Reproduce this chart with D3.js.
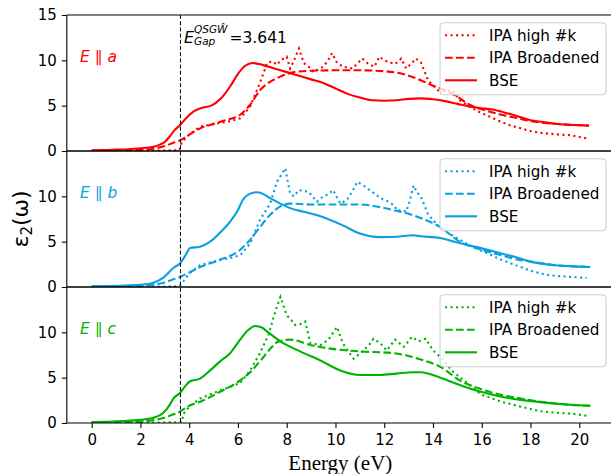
<!DOCTYPE html>
<html>
<head>
<meta charset="utf-8">
<script src="https://cdn.jsdelivr.net/npm/d3@7"></script>
<style>
  body { margin: 0; background: #fff; }
  svg { display: block; }
  .tick text { font-family: "DejaVu Sans", sans-serif; font-size: 15px; fill: #000; }
</style>
</head>
<body>
<div id="chart"></div>
<script>
// x ticks and gap
var xTicks = [0, 2, 4, 6, 8, 10, 12, 14, 16, 18, 20];
var gapEnergy = 3.641;
var panelNames = ["a", "b", "c"];
var panelColors = ["#ff0000", "#0a9fe0", "#00b300"];
var seriesNames = ["IPA high #k", "IPA Broadened", "BSE"];

// E || a
var aDotted = [[0,0.03],[1,0.03],[2,0.04],[3,0.05],[3.6,0.1],[3.7,1.0],[4.0,1.8],[4.45,2.7],[4.9,2.9],[5.27,3.1],[5.7,3.3],[6.09,3.6],[6.5,4.9],[6.9,7.5],[7.2,9.7],[7.4,9.9],[7.6,9.5],[7.75,10.0],[8.0,10.4],[8.14,9.1],[8.3,10.0],[8.5,11.3],[8.7,9.7],[8.9,9.3],[9.1,8.7],[9.3,9.0],[9.5,9.3],[9.7,10.0],[9.86,10.8],[10.05,9.8],[10.3,9.3],[10.7,9.1],[11.1,10.2],[11.35,9.6],[11.6,9.3],[11.8,10.4],[12.0,10.0],[12.2,9.8],[12.45,9.6],[12.7,10.2],[12.9,9.1],[13.1,9.6],[13.3,10.2],[13.5,9.8],[13.8,7.8],[14.2,6.7],[14.5,6.6],[14.8,6.7],[15.1,5.6],[15.5,4.9],[15.9,4.3],[16.4,3.7],[16.8,3.2],[17.2,2.8],[17.6,2.5],[18.0,2.2],[18.4,2.0],[18.8,1.9],[19.2,1.8],[19.6,1.75],[20.0,1.55],[20.3,1.4]];
var aDashed = [[0,0.03],[1,0.05],[2,0.12],[2.5,0.25],[3.0,0.55],[3.3,0.85],[3.64,1.2],[4.0,1.8],[4.45,2.5],[5.0,3.0],[5.5,3.4],[6.09,4.0],[6.5,5.1],[6.9,6.7],[7.3,7.6],[7.74,8.2],[8.4,8.75],[9,8.85],[10,8.9],[11,8.9],[12,8.8],[12.9,8.4],[13.5,7.8],[14.0,7.2],[14.5,6.7],[15.0,6.0],[15.5,5.1],[16.0,4.6],[16.8,4.0],[17.5,3.6],[18,3.3],[19,3.0],[20,2.85],[20.4,2.8]];
var aSolid = [[0,0.08],[0.5,0.1],[1,0.15],[1.5,0.2],[2,0.3],[2.5,0.45],[2.8,0.7],[3.0,1.0],[3.2,1.6],[3.4,2.3],[3.64,2.9],[3.9,3.7],[4.2,4.4],[4.5,4.75],[4.9,5.0],[5.3,5.8],[5.7,7.2],[6.0,8.5],[6.3,9.4],[6.6,9.7],[7.0,9.5],[7.5,9.1],[8.0,8.7],[8.5,8.3],[9.0,7.9],[9.5,7.5],[10.0,6.9],[10.5,6.3],[11.0,5.9],[11.5,5.6],[12.0,5.55],[12.5,5.6],[13.0,5.75],[13.5,5.8],[14.0,5.7],[14.5,5.5],[15.0,5.2],[15.5,4.9],[16.0,4.7],[16.5,4.55],[17,4.2],[17.5,3.8],[18,3.4],[18.5,3.2],[19,3.0],[19.5,2.9],[20,2.85],[20.4,2.8]];

// E || b
var bDotted = [[0,0.03],[2,0.04],[3,0.05],[3.6,0.1],[3.7,0.4],[4.0,1.5],[4.45,2.4],[5.27,3.0],[5.7,3.2],[6.09,3.5],[6.5,4.8],[6.9,7.4],[7.32,9.2],[7.6,11.6],[7.94,13.1],[8.14,10.3],[8.3,10.0],[8.5,10.7],[8.9,10.5],[9.05,10.0],[9.24,9.4],[9.5,10.0],[9.7,10.2],[9.9,10.7],[10.2,9.2],[10.47,9.6],[10.7,10.6],[10.9,11.6],[11.2,11.1],[11.45,10.6],[11.7,10.1],[11.98,9.6],[12.2,9.4],[12.4,9.0],[12.55,8.4],[12.7,8.5],[12.9,8.3],[13.05,9.5],[13.2,11.2],[13.35,10.4],[13.5,10.0],[13.8,8.0],[14.2,6.8],[14.6,6.0],[15.1,5.2],[15.5,4.6],[15.9,4.1],[16.4,3.5],[16.8,3.0],[17.2,2.6],[17.6,2.2],[18.0,1.8],[18.4,1.5],[18.8,1.3],[19.2,1.2],[19.7,1.1],[20.3,1.0]];
var bDashed = [[0,0.03],[1,0.05],[2,0.12],[2.5,0.25],[3,0.5],[3.3,0.8],[3.62,1.1],[4.0,1.6],[4.45,2.2],[5.27,3.0],[6.09,4.1],[6.5,5.2],[6.9,6.6],[7.3,7.9],[7.74,8.9],[8.14,9.2],[9,9.1],[10,9.1],[11,9.1],[11.84,8.8],[12.5,8.4],[13.2,7.9],[13.5,7.6],[14.3,6.6],[15.1,5.0],[16.0,4.1],[16.8,3.5],[17.5,3.0],[18,2.8],[19,2.4],[20,2.25],[20.45,2.2]];
var bSolid = [[0,0.08],[0.5,0.1],[1,0.12],[1.5,0.18],[2,0.25],[2.5,0.45],[2.93,1.0],[3.35,2.1],[3.62,2.6],[3.85,3.5],[4.04,4.3],[4.45,4.45],[4.86,5.0],[5.27,6.0],[5.68,7.2],[6.0,8.5],[6.2,9.6],[6.5,10.3],[6.78,10.45],[7.0,10.3],[7.32,9.8],[7.74,9.2],[8.14,8.7],[8.7,8.3],[9.38,7.8],[10.3,6.8],[11.0,5.9],[11.84,5.5],[12.5,5.55],[13.2,5.7],[13.5,5.6],[14.3,5.4],[15.0,4.9],[15.8,4.4],[16.8,3.7],[17.5,3.2],[18,2.8],[19,2.4],[20,2.25],[20.45,2.2]];

// E || c
var cDotted = [[0,0.03],[2,0.04],[3,0.06],[3.7,0.1],[3.76,1.0],[4.0,1.8],[4.45,2.7],[5.27,3.6],[5.7,4.0],[6.09,4.4],[6.5,5.8],[6.9,7.7],[7.25,9.7],[7.53,12.3],[7.74,13.9],[8.0,11.9],[8.2,11.3],[8.35,10.8],[8.55,10.9],[8.76,11.2],[8.97,8.8],[9.38,8.6],[9.72,9.2],[10.06,10.6],[10.3,8.8],[10.5,8.0],[10.74,7.1],[11.15,8.0],[11.4,8.7],[11.56,9.3],[11.84,8.8],[12.1,8.0],[12.45,9.2],[12.8,8.4],[13.14,9.5],[13.4,9.0],[13.7,9.3],[14.0,8.0],[14.3,7.3],[14.8,5.7],[15.5,4.2],[16.0,3.1],[16.8,2.35],[17.6,1.8],[18.4,1.3],[19.2,1.1],[19.8,1.0],[20.3,0.8]];
var cDashed = [[0,0.03],[1,0.06],[2,0.15],[2.5,0.3],[3,0.6],[3.3,0.9],[3.62,1.25],[4.0,1.9],[4.45,2.35],[5.27,3.45],[6.09,4.7],[6.5,5.6],[6.9,6.8],[7.3,8.1],[7.6,8.9],[8.14,9.2],[8.97,8.6],[9.8,8.2],[11.0,7.9],[12.4,7.7],[13.0,7.4],[13.5,7.0],[14.3,6.2],[15.1,4.7],[15.9,3.8],[16.8,3.1],[17.6,2.7],[18.4,2.35],[19.2,2.1],[20,1.95],[20.45,1.9]];
var cSolid = [[0,0.1],[0.5,0.12],[1,0.18],[1.5,0.25],[2,0.35],[2.5,0.55],[2.93,1.1],[3.2,2.0],[3.35,2.7],[3.62,3.3],[3.85,4.1],[4.04,4.6],[4.45,4.9],[4.86,5.8],[5.27,6.8],[5.68,7.7],[6.09,9.2],[6.4,10.2],[6.71,10.7],[7.0,10.5],[7.19,10.1],[7.74,9.0],[8.55,7.9],[9.38,6.9],[10.2,5.8],[11.0,5.3],[11.84,5.3],[12.5,5.45],[13.2,5.6],[13.5,5.6],[14.3,5.0],[15.1,4.2],[15.9,3.5],[16.8,2.9],[17.6,2.55],[18.4,2.3],[19.2,2.1],[20,1.95],[20.45,1.9]];

var panelData = [[aDotted, aDashed, aSolid], [bDotted, bDashed, bSolid], [cDotted, cDashed, cSolid]];

var svgW = 611, svgH = 474;
var plotLeft = 66.8, plotRight = 613.9, plotTop = 15, panelH = 136;

var svg = d3.select("#chart").append("svg")
  .attr("width", svgW)
  .attr("height", svgH);

var x = d3.scaleLinear().domain([-1.02, 21.42]).range([plotLeft, plotRight]);

var dashes = ["2.1,3.4", "7.7,3.3", null];
var curves = [d3.curveLinear, d3.curveMonotoneX, d3.curveMonotoneX];

panelData.forEach(function(series, p) {
  var y0 = plotTop + p * panelH;
  var y = d3.scaleLinear().domain([0, 15]).range([y0 + panelH, y0]);
  var col = panelColors[p];

  var g = svg.append("g");

  svg.append("clipPath").attr("id", "clip" + p)
    .append("rect").attr("x", plotLeft).attr("y", y0).attr("width", plotRight - plotLeft).attr("height", panelH);

  var lines = g.append("g").attr("clip-path", "url(#clip" + p + ")");
  series.forEach(function(d, i) {
    var line = d3.line()
      .x(function(v) { return x(v[0]); })
      .y(function(v) { return y(v[1]); })
      .curve(curves[i]);
    lines.append("path")
      .datum(d)
      .attr("d", line)
      .attr("fill", "none")
      .attr("stroke", col)
      .attr("stroke-width", 2.1)
      .attr("stroke-dasharray", dashes[i]);
  });

  // y axis
  var yAxis = g.append("g")
    .attr("transform", "translate(" + plotLeft + ",0)")
    .call(d3.axisLeft(y).tickValues(p == 0 ? [0, 5, 10, 15] : [0, 5, 10]).tickSize(5).tickPadding(5));
  yAxis.select(".domain").remove();
  yAxis.selectAll(".tick line").attr("stroke", "#000").attr("stroke-width", 1.1);

  // spines
  g.append("line").attr("x1", plotLeft).attr("x2", plotRight).attr("y1", y0).attr("y2", y0)
    .attr("stroke", "#000").attr("stroke-width", 1.1);
  g.append("line").attr("x1", plotLeft).attr("x2", plotRight).attr("y1", y0 + panelH).attr("y2", y0 + panelH)
    .attr("stroke", "#000").attr("stroke-width", 1.1);
  g.append("line").attr("x1", plotLeft).attr("x2", plotLeft).attr("y1", y0).attr("y2", y0 + panelH)
    .attr("stroke", "#000").attr("stroke-width", 1.1);

  // panel label
  var lab = g.append("text")
    .attr("x", 80).attr("y", y0 + 46.5)
    .attr("fill", col)
    .style("font-family", "DejaVu Sans, sans-serif")
    .style("font-size", "15.5px");
  lab.append("tspan").style("font-style", "italic").text("E");
  lab.append("tspan").text(" \u2225 ");
  lab.append("tspan").style("font-style", "italic").text(panelNames[p]);

  // legend
  var lg = g.append("g").attr("transform", "translate(440," + (y0 + 7.8) + ")");
  lg.append("rect")
    .attr("x", 0).attr("y", 0).attr("width", 166).attr("height", 72)
    .attr("rx", 3.5)
    .attr("fill", "#fff").attr("fill-opacity", 0.8)
    .attr("stroke", "#cccccc").attr("stroke-width", 1);
  seriesNames.forEach(function(name, i) {
    var ry = 12.5 + i * 22.5;
    lg.append("line")
      .attr("x1", 5).attr("x2", 37).attr("y1", ry).attr("y2", ry)
      .attr("stroke", col).attr("stroke-width", 2.1)
      .attr("stroke-dasharray", dashes[i]);
    lg.append("text")
      .attr("x", 49).attr("y", ry + 5.5)
      .style("font-family", "DejaVu Sans, sans-serif")
      .style("font-size", "15.2px")
      .attr("fill", "#000")
      .text(name);
  });
});

var plotBottom = plotTop + 3 * panelH;

// x axis
var xAxis = svg.append("g")
  .attr("transform", "translate(0," + plotBottom + ")")
  .call(d3.axisBottom(x).tickValues(xTicks).tickSize(5).tickPadding(6));
xAxis.select(".domain").remove();
xAxis.selectAll(".tick line").attr("stroke", "#000").attr("stroke-width", 1.1);

// gap line
svg.append("line")
  .attr("x1", x(gapEnergy)).attr("x2", x(gapEnergy))
  .attr("y1", plotTop).attr("y2", plotBottom)
  .attr("stroke", "#000").attr("stroke-width", 1)
  .attr("stroke-dasharray", "4,2.2");

// gap annotation
var ann = svg.append("g").style("font-family", "DejaVu Sans, sans-serif").attr("fill", "#000");
ann.append("text").attr("x", 184).attr("y", 43.3).style("font-size", "16px").style("font-style", "italic").text("E");
ann.append("text").attr("x", 194).attr("y", 32.5).style("font-size", "10.5px").style("font-style", "italic").text("QSG\u0174");
ann.append("text").attr("x", 194).attr("y", 45).style("font-size", "10.5px").style("font-style", "italic").text("Gap");
ann.append("text").attr("x", 229.5).attr("y", 43.3).style("font-size", "15.5px").text("=" + gapEnergy);

// axis labels
svg.append("text")
  .attr("x", (plotLeft + plotRight) / 2).attr("y", 470)
  .attr("text-anchor", "middle")
  .style("font-family", "Liberation Serif, Times New Roman, serif")
  .style("font-size", "21px")
  .text("Energy (eV)");

var yl = svg.append("text")
  .attr("transform", "translate(28," + ((plotTop + plotBottom) / 2) + ") rotate(-90)")
  .attr("text-anchor", "middle")
  .style("font-family", "DejaVu Sans, sans-serif")
  .style("font-size", "22px");
yl.append("tspan").text("\u03b5");
yl.append("tspan").attr("dy", 4).style("font-size", "15px").text("2");
yl.append("tspan").attr("dy", -4).text("(\u03c9)");
</script>
</body>
</html>
